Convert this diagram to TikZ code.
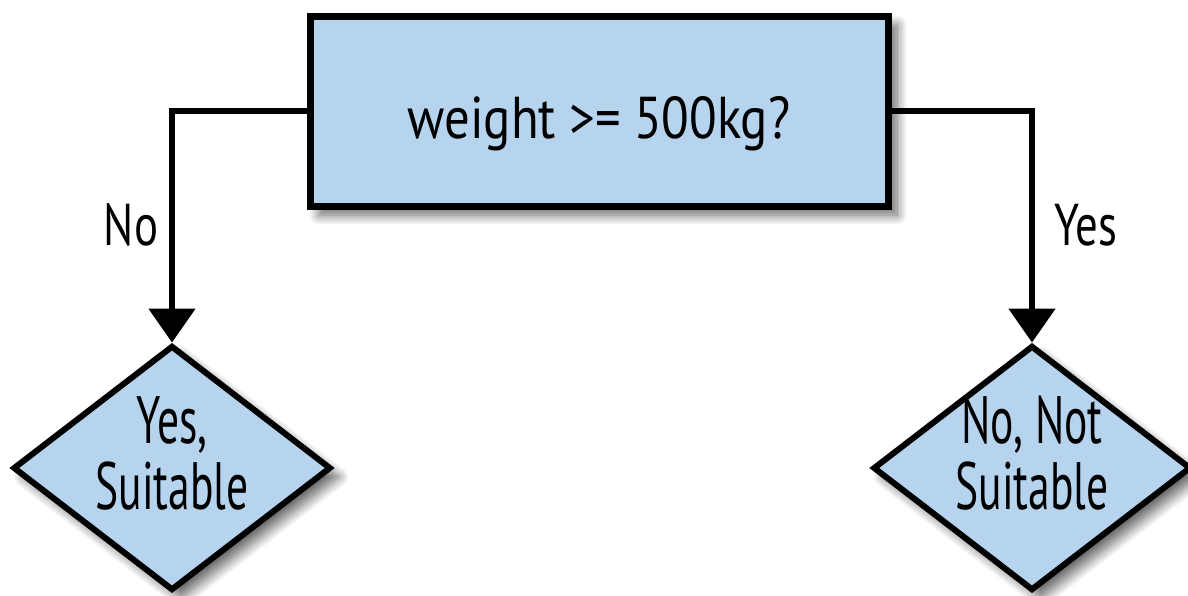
\documentclass[tikz,border=0pt]{standalone}
\usepackage{fontspec}
\setmainfont[FakeStretch=0.76]{PT Sans}
\newfontfamily\boxfont[FakeStretch=0.86]{PT Sans}
\newfontfamily\leaffont[FakeStretch=0.65]{PT Sans}
\usetikzlibrary{arrows.meta,shapes.geometric,shadows.blur}
\definecolor{boxblue}{RGB}{182,212,238}
\tikzset{
  shadowed/.style={blur shadow={shadow xshift=9pt, shadow yshift=-9pt, shadow blur radius=10pt, shadow blur steps=12, shadow opacity=60}},
  qbox/.style={draw=black, line width=7pt, fill=boxblue, minimum width=578pt, minimum height=190pt, inner sep=0pt, shadowed},
  leaf/.style={diamond, draw=black, line width=6pt, fill=boxblue, aspect=1.30, minimum width=318pt, minimum height=245pt, inner sep=0pt, shadowed},
  leaftext/.style={align=center, inner sep=0pt, font=\leaffont\fontsize{67}{66}\selectfont},
  conn/.style={line width=5.5pt, -{Triangle[width=46pt,length=34pt]}},
  lbl/.style={font=\fontsize{59}{60}\selectfont, inner sep=0pt}
}
\begin{document}
\begin{tikzpicture}[x=1pt,y=-1pt]
\useasboundingbox (0,0) rectangle (1188,595);
\node[qbox, font=\boxfont\fontsize{59}{60}\selectfont, text height=54pt, text depth=0pt] (q) at (599,111) {weight >= 500kg?};
\node[leaf] (yes) at (172,468) {};
\node[leaf] (no) at (1032,468) {};
\node[leaftext] (yestxt) at (172,453) {Yes,\\Suitable};
\node[leaftext] (notxt) at (1032,453) {No, Not\\Suitable};
\coordinate (lc) at (172,111);
\coordinate (rc) at (1032,111);
\draw[conn] (q.west) -- (lc) -- (yes.north);
\draw[conn] (q.east) -- (rc) -- (no.north);
\node[lbl] (nolbl) at (131,225) {No};
\node[lbl] (yeslbl) at (1086,225) {Yes};
\end{tikzpicture}
\end{document}
